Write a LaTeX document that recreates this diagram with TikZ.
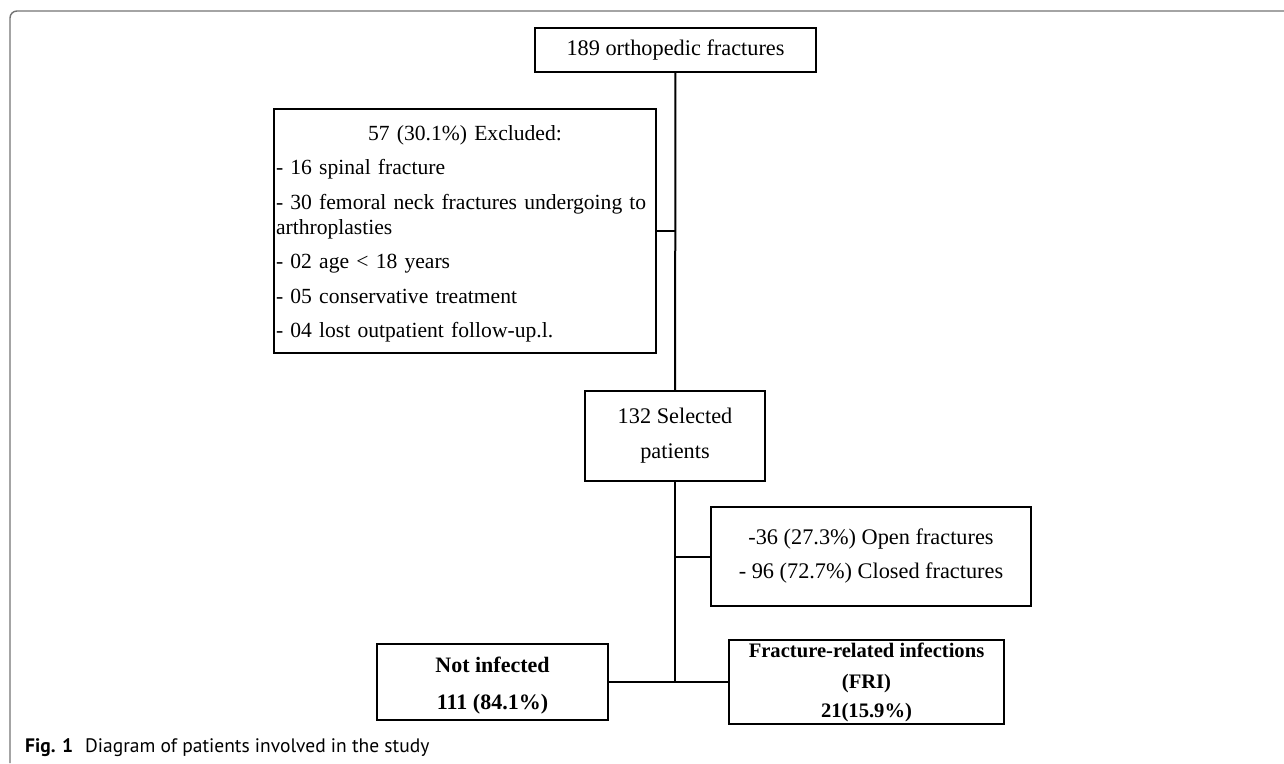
\documentclass[tikz,border=0pt]{standalone}
\usepackage{fontspec}
\setmainfont{Liberation Serif}
\newfontfamily\capfont{PT Sans}
\usetikzlibrary{calc}

\begin{document}
\begin{tikzpicture}[x=1pt,y=-1pt,
		box/.style={draw, line width=2pt, inner sep=0pt, align=center, font=\fontsize{22.3}{25}\selectfont},
		boldbox/.style={box, font=\fontsize{22}{25}\selectfont\bfseries}]
		\useasboundingbox (0,0) rectangle (1284,763);
		\draw[black!55, line width=1.4pt, rounded corners=7pt] (10,763) -- (10,11) -- (1284,11);
		\draw (675.5,50) node[box, minimum width=281pt, minimum height=44pt](total){189 orthopedic fractures};
		\draw (465,231) node[box, align=left, text width=378pt, inner xsep=2pt, minimum height=244pt, font=\fontsize{21.6}{25}\selectfont](excluded){\rule{0pt}{21pt}\makebox[378pt]{57 (30.1\%) Excluded:}\\[9.5pt]
			- 16 spinal fracture\\[9.5pt]
			\mbox{- 30 femoral neck fractures undergoing to}\\
			arthroplasties\\[9.5pt]
			- 02 age < 18 years\\[9.5pt]
			- 05 conservative treatment\\[9.5pt]
			- 04 lost outpatient follow-up.l.};
		\draw (675,436) node[box, minimum width=180pt, minimum height=90pt](selected){132 Selected\\[10pt]patients};
		\draw (871,556.5) node[box, minimum width=320pt, minimum height=99pt](types){-36 (27.3\%) Open fractures\\[9pt]- 96 (72.7\%) Closed fractures};
		\draw (492.5,682) node[boldbox, minimum width=231pt, minimum height=76pt, text depth=0pt](noinf){\raisebox{-3pt}{Not infected}\\[12pt]\raisebox{-3pt}{111 (84.1\%)}};
		\draw (866.5,682) node[boldbox, font=\fontsize{20.6}{23}\selectfont\bfseries, minimum width=275pt, minimum height=84pt](fri){Fracture-related infections\\[8pt](FRI)\\[6pt]21(15.9\%)};
		\draw (25,748) node[anchor=west, inner sep=0pt, font=\capfont\fontsize{19.5}{22}\selectfont](caption){\textbf{Fig. 1}\hspace{12pt}Diagram of patients involved in the study};
		\draw[line width=2pt] (total) -- (selected);
		\draw[line width=2pt] (excluded.east) -- (excluded.east -| total);
		\draw[line width=2pt] (selected) -- (selected |- noinf);
		\draw[line width=2pt] (types.west) -- (types.west -| selected);
		\draw[line width=2pt] (noinf) -- (fri);
	\end{tikzpicture}
\end{document}
